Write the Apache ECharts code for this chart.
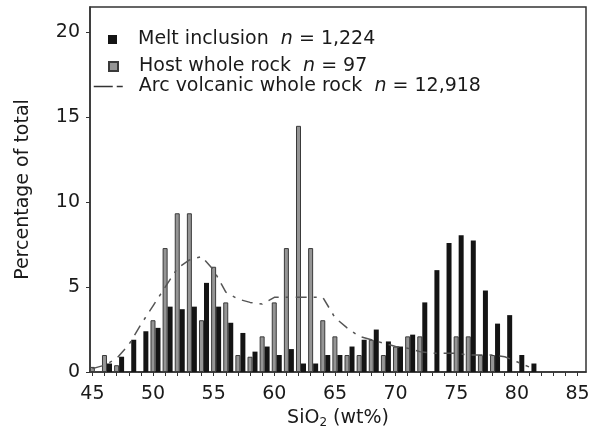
<!DOCTYPE html>
<html>
<head>
<meta charset="utf-8">
<script src="https://cdn.jsdelivr.net/npm/echarts@6/dist/echarts.min.js"></script>
<style>
  html, body { margin: 0; padding: 0; background: #fff; }
  #chart { width: 594px; height: 438px; }
</style>
</head>
<body>
<div id="chart"></div>
<script>
// SiO2 bins (wt%), 1 wt% wide
const sio2Bins = [45, 46, 47, 48, 49, 50, 51, 52, 53, 54, 55, 56, 57, 58, 59, 60, 61, 62, 63,
  64, 65, 66, 67, 68, 69, 70, 71, 72, 73, 74, 75, 76, 77, 78, 79, 80, 81];

// percentage of total per bin
const meltInclusion = [0, 0.5, 0.9, 1.9, 2.4, 2.6, 3.85, 3.7, 3.85, 5.25, 3.85, 2.9, 2.3, 1.2, 1.5, 1.0, 1.35, 0.5, 0.5,
  1.0, 1.0, 1.5, 1.9, 2.5, 1.8, 1.5, 2.2, 4.1, 6.0, 7.6, 8.05, 7.75, 4.8, 2.85, 3.35, 1.0, 0.5];
const hostWholeRock = [0.3, 1.0, 0.4, 0, 0, 3.05, 7.3, 9.35, 9.35, 3.05, 6.2, 4.1, 1.0, 0.9, 2.1, 4.1, 7.3, 14.5, 7.3,
  3.05, 2.1, 1.0, 1.0, 1.9, 1.0, 1.5, 2.1, 2.1, 0, 0, 2.1, 2.1, 1.0, 1.0, 0, 0, 0];
const arcVolcanic = [0.2, 0.4, 0.8, 1.6, 2.8, 3.9, 5.0, 6.1, 6.6, 6.8, 6.0, 4.7, 4.3, 4.1, 4.0, 4.4, 4.4, 4.4, 4.4,
  4.4, 3.2, 2.6, 2.1, 1.9, 1.7, 1.5, 1.4, 1.2, 1.1, 1.1, 1.1, 1.0, 1.0, 1.0, 0.9, 0.6, 0.3];

const seriesNames = ["Melt inclusion", "Host whole rock", "Arc volcanic whole rock"];
const seriesCounts = ["1,224", "97", "12,918"];

const xTicks = [];
for (let v = 45; v <= 85; v++) xTicks.push(v);
const xLabels = [45, 50, 55, 60, 65, 70, 75, 80, 85];
const yLabels = [0, 5, 10, 15, 20];

const FONT = "DejaVu Sans, Arial, sans-serif";
const BAR_SHIFT = 0.2; // bar pair sits slightly right of the bin value

const chart = echarts.init(document.getElementById("chart"), null, { renderer: "canvas" });

function legendText(name) {
  const i = seriesNames.indexOf(name);
  return name + "  {n|n} = " + seriesCounts[i];
}
const legendTextStyle = (padLeft) => ({
  fontFamily: FONT,
  fontSize: 19,
  color: "#1a1a1a",
  padding: [0, 0, 0, padLeft],
  rich: { n: { fontFamily: FONT, fontSize: 19, fontStyle: "italic", color: "#1a1a1a" } }
});

chart.setOption({
  animation: false,
  backgroundColor: "#fff",
  grid: {
    left: 90, right: 8, top: 7, bottom: 66,
    show: true, borderColor: "#333", borderWidth: 1.5
  },
  legend: [
    {
      data: [{ name: seriesNames[0], icon: "rect" }],
      left: 108, top: 30, padding: 0, itemWidth: 9, itemHeight: 9,
      selectedMode: false, formatter: legendText, textStyle: legendTextStyle(16)
    },
    {
      data: [{ name: seriesNames[1], icon: "rect" }],
      left: 108, top: 57, padding: 0, itemWidth: 9, itemHeight: 9,
      selectedMode: false, formatter: legendText, textStyle: legendTextStyle(16)
    },
    {
      data: [{ name: seriesNames[2] }],
      left: 93, top: 77, padding: 0, itemWidth: 30, itemHeight: 12,
      selectedMode: false, formatter: legendText, textStyle: legendTextStyle(10),
      itemStyle: { opacity: 0 },
      lineStyle: { type: [19, 4, 6, 10], width: 1.5, color: "#333", opacity: 1 }
    }
  ],
  xAxis: {
    type: "value",
    min: 44.8,
    max: 85.7,
    name: "{a|SiO}{s|2}{a| (wt%)}",
    nameLocation: "middle",
    nameGap: 36,
    nameTextStyle: {
      rich: {
        a: { fontFamily: FONT, fontSize: 19, color: "#1a1a1a" },
        s: { fontFamily: FONT, fontSize: 12, color: "#1a1a1a", verticalAlign: "bottom", padding: [9, 0, 0, 0] }
      }
    },
    axisLine: { show: true, lineStyle: { color: "#333", width: 1.5 } },
    axisTick: { show: true, customValues: xTicks, length: 4, lineStyle: { color: "#333" } },
    axisLabel: { customValues: xLabels, margin: 13, fontFamily: FONT, fontSize: 19, color: "#1a1a1a" },
    splitLine: { show: false }
  },
  yAxis: {
    type: "value",
    min: 0,
    max: 21.5,
    name: "Percentage of total",
    nameLocation: "middle",
    nameGap: 57,
    nameTextStyle: { fontFamily: FONT, fontSize: 19, color: "#1a1a1a" },
    axisLine: { show: true, lineStyle: { color: "#333", width: 1.5 } },
    axisTick: { show: true, customValues: yLabels, length: 4, lineStyle: { color: "#333" } },
    axisLabel: { customValues: yLabels, margin: 10, fontFamily: FONT, fontSize: 19, color: "#1a1a1a" },
    splitLine: { show: false }
  },
  series: [
    {
      name: seriesNames[1],
      type: "bar",
      data: sio2Bins.map((v, i) => [v + BAR_SHIFT, hostWholeRock[i]]),
      barWidth: 5,
      barGap: "0%",
      itemStyle: { color: "#959595", borderColor: "#3a3a3a", borderWidth: 1 },
      z: 2
    },
    {
      name: seriesNames[0],
      type: "bar",
      data: sio2Bins.map((v, i) => [v + BAR_SHIFT, meltInclusion[i]]),
      barWidth: 5,
      barGap: "0%",
      itemStyle: { color: "#141414" },
      z: 2
    },
    {
      name: seriesNames[2],
      type: "line",
      data: sio2Bins.map((v, i) => [v, arcVolcanic[i]]),
      symbol: "none",
      smooth: false,
      lineStyle: { type: [11, 7, 3, 7], width: 1.5, color: "#555" },
      z: 3
    }
  ]
});
</script>
</body>
</html>
